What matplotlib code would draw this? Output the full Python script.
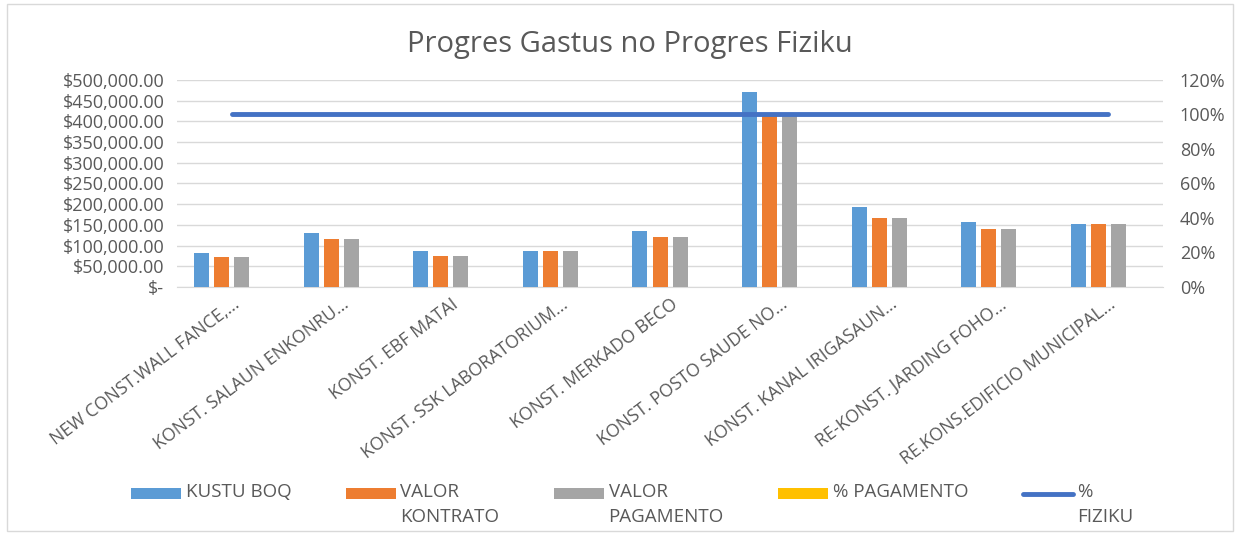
import matplotlib
matplotlib.use("Agg")
import matplotlib.pyplot as plt
from matplotlib.ticker import FuncFormatter, PercentFormatter
from matplotlib.patches import Rectangle
import numpy as np

categories = [
    "NEW CONST.WALL FANCE,...",
    "KONST. SALAUN ENKONRU...",
    "KONST. EBF MATAI",
    "KONST. SSK LABORATORIUM...",
    "KONST. MERKADO BECO",
    "KONST. POSTO SAUDE NO...",
    "KONST. KANAL IRIGASAUN...",
    "RE-KONST. JARDING FOHO...",
    "RE.KONS.EDIFICIO MUNICIPAL...",
]
kustu_boq = [82300, 131500, 87100, 87100, 136300, 472000, 192800, 156500, 152500]
valor_kontratu = [73400, 116200, 75800, 87100, 120200, 414000, 167800, 141200, 152500]
valor_pagamentu = [73400, 116200, 75800, 87100, 120200, 414000, 167800, 141200, 152500]
pct_pagamentu = [1.0, 1.0, 1.0, 1.0, 1.0, 1.0, 1.0, 1.0, 1.0]
pct_fiziku = [1.0, 1.0, 1.0, 1.0, 1.0, 1.0, 1.0, 1.0, 1.0]

labels = ["KUSTU BOQ\n ", "VALOR\nKONTRATO", "VALOR\nPAGAMENTO", "% PAGAMENTO\n ", "%\nFIZIKU"]
colors = ["#5B9BD5", "#ED7D31", "#A5A5A5", "#FFC000", "#4472C4"]

FONT = ["Open Sans", "DejaVu Sans"]
plt.rcParams["font.family"] = FONT
TXT = "#595959"

fig = plt.figure(figsize=(12.4, 5.35), dpi=100)
ax = fig.add_axes([0.1427, 0.4636, 0.938 - 0.1427, 0.8505 - 0.4636])
ax2 = ax.twinx()

x = np.arange(len(categories))
step = 0.183
w = 0.137
series = [kustu_boq, valor_kontratu, valor_pagamentu, pct_pagamentu]
handles = []
for i, vals in enumerate(series):
    b = ax.bar(x + (i - 1.5) * step, vals, width=w, color=colors[i], label=labels[i], zorder=3)
    handles.append(b)

ln, = ax2.plot(x, pct_fiziku, color=colors[4], lw=3.5, solid_capstyle="round", label=labels[4], zorder=4)
handles.append(ln)

ax.set_xlim(-0.5, len(categories) - 0.5)
ax.set_ylim(0, 500000)
ax.set_yticks(np.arange(0, 500001, 50000))
ax.yaxis.set_major_formatter(FuncFormatter(lambda v, p: "$-" if v == 0 else f"${v:,.2f}"))
ax2.set_ylim(0, 1.2)
ax2.set_yticks(np.arange(0, 1.21, 0.2))
ax2.yaxis.set_major_formatter(PercentFormatter(1.0, decimals=0))

ax.grid(axis="y", color="#D9D9D9", lw=1, zorder=0)
for a in (ax, ax2):
    for s in a.spines.values():
        s.set_visible(False)
    a.tick_params(length=0, colors=TXT, labelsize=13)
ax.spines["bottom"].set_visible(True)
ax.spines["bottom"].set_color("#D9D9D9")
ax.tick_params(axis="y", pad=9)
ax2.tick_params(axis="y", pad=12)

ax.set_xticks(x)
ax.set_xticklabels(categories, rotation=37, ha="right", rotation_mode="anchor", fontsize=12.8)
ax.tick_params(axis="x", pad=6)

fig.text(0.508, 0.917, "Progres Gastus no Progres Fiziku", ha="center", va="center",
         fontsize=21, color=TXT)

LFS = 13.5
leg = fig.legend(handles=handles, labels=labels, loc="center", bbox_to_anchor=(0.51, 0.057),
                 ncol=5, frameon=False, fontsize=LFS, handlelength=2.67, handleheight=0.55,
                 columnspacing=2.9, handletextpad=0.25, labelcolor=TXT)
LSP = 1.45
for t in leg.get_texts():
    t.set_linespacing(LSP)
dy = 8.3
for h in leg.legend_handles:
    if isinstance(h, Rectangle):
        h.set_y(h.get_y() + dy)
    else:
        h.set_ydata(np.asarray(h.get_ydata()) + dy)
        h.set_linewidth(3.5)
        h.set_solid_capstyle("round")

fig.patches.append(Rectangle((0.006, 0.008), 0.988, 0.985, transform=fig.transFigure,
                             fill=False, edgecolor="#D9D9D9", lw=1))

fig.savefig("out.png", dpi=100)
